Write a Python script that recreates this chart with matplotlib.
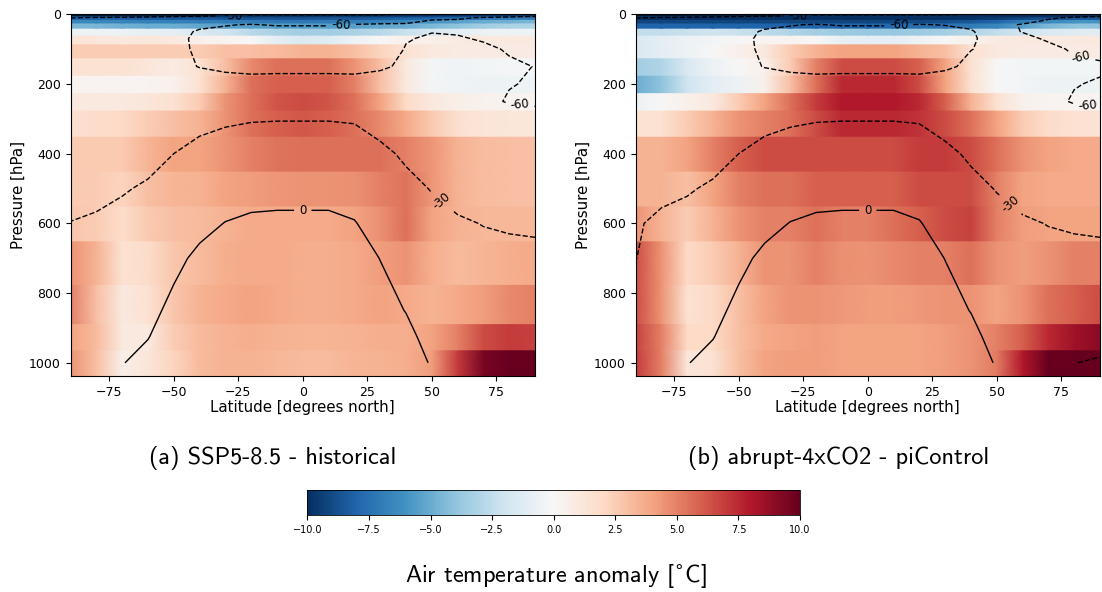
import numpy as np
import matplotlib
matplotlib.use("Agg")
import matplotlib.pyplot as plt
from matplotlib.cm import ScalarMappable
from matplotlib.colors import Normalize

# -- data --
lats = [-90, -80, -70, -60, -50, -40, -30, -20, -10, 0, 10, 20, 30, 40, 50, 60, 70, 80, 90]
plevs = [1000, 925, 850, 700, 600, 500, 400, 300, 250, 200, 150, 100, 70, 50, 30, 20, 10, 5, 1]
contour_levels = [-60, -30, 0]

# temperature anomaly [degC], one row per pressure level (1000 hPa first), one column per latitude
anom_ssp585 = [
    [4.5, 3.0, 0.6, 1.2, 2.2, 3.2, 3.5, 3.5, 3.3, 3.2, 3.2, 3.4, 3.5, 3.6, 4.2, 7.0, 9.5, 10.0, 10.0],
    [4.0, 3.2, 1.0, 1.0, 2.5, 3.2, 3.5, 3.6, 3.5, 3.4, 3.4, 3.5, 3.6, 3.6, 4.0, 5.0, 6.5, 7.0, 6.8],
    [5.0, 3.0, 1.0, 1.5, 2.8, 3.5, 3.8, 4.0, 3.8, 3.6, 3.6, 3.8, 4.0, 3.8, 3.5, 3.8, 4.2, 4.8, 5.0],
    [4.5, 3.5, 1.5, 1.8, 2.8, 3.2, 3.6, 3.8, 3.8, 3.6, 3.6, 3.8, 4.2, 4.5, 3.6, 3.2, 3.4, 3.6, 3.8],
    [2.8, 2.5, 1.8, 2.6, 3.0, 3.2, 3.5, 3.8, 3.8, 3.8, 3.8, 4.0, 4.6, 5.5, 4.0, 3.5, 3.3, 3.3, 3.3],
    [2.6, 2.5, 2.2, 3.0, 3.4, 3.5, 4.0, 4.2, 4.4, 4.5, 4.5, 4.6, 5.0, 5.4, 4.4, 3.5, 3.1, 3.0, 3.0],
    [2.6, 2.6, 2.6, 3.4, 4.0, 4.0, 4.5, 5.0, 5.4, 5.5, 5.5, 5.5, 5.5, 5.0, 4.4, 3.5, 3.1, 3.0, 3.0],
    [1.6, 1.8, 2.0, 2.5, 3.0, 3.5, 4.5, 5.5, 6.0, 6.2, 6.0, 5.5, 4.8, 3.8, 2.6, 1.6, 1.3, 1.2, 1.2],
    [1.0, 1.0, 1.0, 1.2, 1.5, 2.5, 4.5, 5.5, 6.3, 6.5, 6.3, 5.5, 4.0, 2.0, 1.0, 0.6, 0.4, 0.3, 0.3],
    [0.3, 0.3, 0.3, 0.3, 0.5, 1.5, 3.5, 5.5, 6.0, 6.0, 6.0, 5.0, 3.0, 1.0, -0.2, -0.4, -0.5, -0.5, -0.5],
    [1.5, 1.5, 1.5, 1.2, 0.8, 1.5, 3.0, 4.8, 5.5, 5.5, 5.5, 4.5, 3.0, 1.0, -0.2, -0.4, -0.3, -0.2, -0.2],
    [2.5, 2.5, 2.5, 2.5, 2.5, 2.5, 3.0, 3.0, 3.2, 3.5, 3.5, 3.0, 2.2, 1.5, 1.0, 0.8, 0.8, 0.8, 0.8],
    [1.3, 1.2, 1.0, 1.2, 1.0, 0.5, 0.3, 0.0, -1.0, -1.5, -1.2, -0.5, 0.0, 0.5, 0.5, 0.8, 1.0, 1.0, 1.0],
    [-0.5, -0.5, -0.6, -0.8, -1.0, -1.5, -2.0, -2.8, -3.2, -3.5, -3.5, -3.2, -2.8, -2.2, -1.6, -1.0, -0.6, -0.5, -0.5],
    [-4.5, -4.6, -4.8, -5.0, -5.0, -5.2, -5.5, -5.5, -5.6, -5.6, -5.5, -5.4, -5.2, -5.0, -4.5, -4.0, -3.5, -3.2, -3.0],
    [-6.5, -6.5, -6.6, -6.8, -6.8, -7.0, -7.0, -7.0, -7.2, -7.2, -7.0, -7.0, -6.8, -6.5, -6.0, -5.5, -5.0, -4.8, -4.5],
    [-8.0, -8.0, -8.2, -8.3, -8.4, -8.5, -8.5, -8.6, -8.6, -8.6, -8.5, -8.5, -8.3, -8.0, -7.8, -7.5, -7.2, -7.0, -7.0],
    [-9.2, -9.3, -9.4, -9.5, -9.5, -9.6, -9.6, -9.7, -9.7, -9.7, -9.6, -9.6, -9.5, -9.4, -9.2, -9.0, -8.8, -8.6, -8.5],
    [-10.0, -10.0, -10.0, -10.0, -10.0, -10.0, -10.0, -10.0, -10.0, -10.0, -10.0, -10.0, -10.0, -10.0, -10.0, -10.0, -10.0, -10.0, -10.0],
]

anom_4xco2 = [
    [7.0, 5.0, 1.2, 1.5, 3.0, 4.0, 4.2, 4.2, 4.0, 4.0, 4.0, 4.0, 4.2, 4.5, 5.2, 8.0, 10.0, 10.0, 10.0],
    [6.8, 5.0, 2.0, 2.0, 3.0, 3.8, 4.0, 4.2, 4.0, 4.0, 4.0, 4.0, 4.2, 4.5, 5.0, 6.0, 7.5, 8.5, 9.0],
    [6.5, 4.5, 1.5, 2.0, 3.0, 4.0, 4.5, 4.5, 4.3, 4.2, 4.2, 4.3, 4.5, 4.5, 4.0, 4.5, 5.5, 6.0, 6.5],
    [6.5, 4.5, 2.0, 2.5, 3.5, 4.5, 4.5, 5.0, 4.6, 4.5, 4.8, 5.0, 5.0, 5.5, 4.5, 4.2, 4.5, 5.0, 5.0],
    [4.5, 3.5, 2.5, 3.5, 4.5, 5.0, 5.0, 5.5, 5.0, 5.0, 5.5, 6.0, 6.5, 6.8, 5.0, 4.2, 4.0, 4.0, 4.0],
    [3.5, 3.5, 3.0, 4.0, 5.0, 5.5, 5.5, 6.0, 6.0, 6.0, 6.0, 6.5, 6.5, 6.5, 5.0, 4.0, 3.8, 3.8, 3.8],
    [3.5, 3.5, 4.0, 5.0, 6.0, 6.5, 6.5, 6.5, 6.5, 6.5, 6.5, 7.0, 7.0, 6.5, 5.5, 4.5, 4.0, 3.8, 3.8],
    [1.5, 1.5, 2.5, 3.5, 4.5, 5.0, 5.5, 6.5, 7.5, 7.5, 7.5, 7.2, 6.5, 5.5, 4.0, 2.5, 1.8, 1.5, 1.5],
    [-0.5, 0.0, 0.5, 1.0, 2.5, 4.0, 5.5, 7.0, 8.0, 8.0, 8.0, 7.5, 6.0, 3.5, 1.5, 0.5, 0.3, 0.3, 0.3],
    [-5.0, -4.0, -2.0, -1.0, -0.5, 0.5, 3.0, 5.5, 7.5, 7.5, 7.5, 6.5, 4.0, 1.5, 0.0, -0.3, -0.5, -0.5, -0.5],
    [-3.5, -3.0, -1.5, -0.5, 0.0, 0.5, 2.5, 5.0, 6.5, 6.5, 6.5, 6.0, 4.0, 1.5, 0.0, -0.3, -0.3, -0.3, -0.3],
    [-1.5, -1.0, -0.5, 0.0, 0.5, 1.0, 2.5, 3.5, 4.0, 4.0, 4.0, 3.5, 3.0, 1.5, 1.0, 0.8, 0.8, 0.8, 0.8],
    [-1.5, -1.0, -0.5, -0.3, 0.0, 0.3, 0.3, 0.0, -0.8, -1.0, -1.0, -0.5, 0.0, 0.5, 0.8, 1.0, 1.0, 1.0, 1.0],
    [-2.5, -2.5, -2.2, -2.0, -2.2, -2.6, -3.0, -3.4, -3.6, -3.8, -3.8, -3.6, -3.4, -3.0, -2.5, -2.0, -1.5, -1.2, -1.0],
    [-8.0, -8.0, -8.0, -8.0, -8.0, -8.0, -8.0, -8.0, -8.0, -8.0, -7.8, -7.5, -7.5, -7.0, -6.5, -5.5, -4.5, -4.0, -4.0],
    [-9.2, -9.2, -9.2, -9.2, -9.2, -9.2, -9.2, -9.2, -9.2, -9.2, -9.0, -9.0, -8.8, -8.5, -8.0, -7.0, -6.5, -6.0, -6.0],
    [-10.0, -10.0, -10.0, -10.0, -10.0, -10.0, -10.0, -10.0, -10.0, -10.0, -10.0, -10.0, -10.0, -9.8, -9.5, -9.0, -8.8, -8.5, -8.5],
    [-10.0, -10.0, -10.0, -10.0, -10.0, -10.0, -10.0, -10.0, -10.0, -10.0, -10.0, -10.0, -10.0, -10.0, -10.0, -10.0, -10.0, -10.0, -10.0],
    [-10.0, -10.0, -10.0, -10.0, -10.0, -10.0, -10.0, -10.0, -10.0, -10.0, -10.0, -10.0, -10.0, -10.0, -10.0, -10.0, -10.0, -10.0, -10.0],
]

# baseline air temperature [degC] used for the contours, same layout
clim_hist = [
    [-8, -5, -0.5, 4, 10, 16, 21, 24, 25, 25, 25, 24, 16, 9, -1.5, -6, -10, -14, -16],
    [-12, -9, -4, -0.5, 7, 12.5, 17, 20, 21, 21, 21, 20, 11, 4.5, -6, -10, -14, -17, -19],
    [-16, -13, -8, -4, 3.5, 9, 13, 15, 16, 16, 16, 15, 6, -0.5, -10, -14, -18, -20, -22],
    [-24, -21, -16, -12, -3.5, 3, 6, 7.5, 8, 8, 8, 7, -0.3, -8, -17, -21, -25, -26.5, -27],
    [-29.5, -27.5, -23, -19, -10, -4, 0.4, 2.5, 3, 3, 3, 0.8, -6.5, -15, -23, -28, -30.5, -31.5, -32],
    [-38, -35, -32, -27, -19, -12, -7.5, -5.5, -5, -5, -5, -7, -14, -24, -31, -36, -38, -40, -41],
    [-47, -44, -42, -38, -30, -23, -19, -17, -16, -16, -16, -18, -25, -33.5, -41, -45, -47, -48, -49],
    [-52, -52, -51, -50, -45, -37, -33.5, -31.5, -31, -31, -31, -32, -39, -46, -52, -53, -52, -54, -55],
    [-50, -51, -51, -52, -51, -46, -44, -42, -41, -41, -41, -42, -48, -51, -55, -52, -57, -61, -62],
    [-48, -50, -50, -51, -53, -53, -53, -53, -52, -52, -52, -53, -52, -54, -56, -54, -57, -59.5, -61],
    [-47, -50, -51, -52, -56, -60.5, -63.5, -65.5, -65.5, -65.5, -65.5, -65.5, -62.5, -57, -57, -55, -57, -58.5, -60.2],
    [-48, -51, -52, -53, -55, -63, -72, -75, -78, -78, -78, -76, -70, -59, -58, -57, -58, -61, -63],
    [-49, -52, -53, -54, -56, -63, -67, -70, -72, -72, -72, -71, -67, -61, -58, -59, -61, -63, -64],
    [-48, -51, -52, -53, -57, -61, -62, -65, -65, -65, -65, -65, -64, -62, -60.5, -61, -62, -64, -65],
    [-46, -48, -50, -51, -55, -58, -59.5, -60.5, -59, -59, -59, -60.5, -61, -61, -62, -62, -63, -64, -65],
    [-42, -44, -46, -48, -51, -54, -55, -55, -54, -54, -54, -55, -57, -58, -61, -62, -63, -64, -65],
    [-29, -32, -33, -36, -39, -42, -44, -45, -45, -45, -45, -45, -46, -48, -58, -58, -61, -62, -63],
    [-15, -18, -20, -22, -25, -28, -30.5, -33, -33, -33, -33, -33, -33, -36, -40, -45, -55, -57, -59],
    [3, 3, 3, 3, 3, 3, -2, -29, -29, -29, -29, -29, -29, -31, -33, -35, -40, -45, -48],
]

clim_pictrl = [
    [-8, -5, -0.5, 4, 10, 16, 21, 24, 25, 25, 25, 24, 16, 9, -1.5, -6, -14, -29.5, -33],
    [-12, -9, -4, -0.5, 7, 12.5, 17, 20, 21, 21, 21, 20, 11, 4.5, -6, -10, -18, -22, -20],
    [-25, -13, -8, -4, 3.5, 9, 13, 15, 16, 16, 16, 15, 6, -0.5, -10, -14, -20, -24, -24],
    [-30.5, -20, -16, -12, -3.5, 3, 6, 7.5, 8, 8, 8, 7, -0.3, -8, -17, -21, -25, -26.5, -27],
    [-32, -26, -23, -19, -10, -4, 0.4, 2.5, 3, 3, 3, 0.8, -6.5, -15, -23, -28, -30.5, -31.5, -32],
    [-38, -35, -32, -27, -19, -12, -7.5, -5.5, -5, -5, -5, -7, -14, -24, -31, -36, -38, -40, -41],
    [-47, -44, -42, -38, -30, -23, -19, -17, -16, -16, -16, -18, -25, -33.5, -41, -45, -47, -48, -49],
    [-52, -52, -51, -50, -45, -37, -33.5, -31.5, -31, -31, -31, -32, -39, -46, -52, -53, -52, -54, -55],
    [-50, -51, -51, -52, -51, -46, -44, -42, -41, -41, -41, -42, -48, -51, -55, -52, -57, -61, -62],
    [-48, -50, -50, -51, -53, -53, -53, -53, -52, -52, -52, -53, -52, -54, -56, -54, -57, -59.5, -61],
    [-47, -50, -51, -52, -56, -60.5, -63.5, -65.5, -65.5, -65.5, -65.5, -65.5, -62.5, -57, -57, -55, -57, -58.5, -58.5],
    [-48, -51, -52, -53, -55, -63, -72, -75, -78, -78, -78, -76, -70, -60.3, -57, -57, -58, -61, -63],
    [-49, -52, -53, -54, -56, -63, -67, -70, -72, -72, -72, -71, -67, -61, -57, -58, -61, -63, -64],
    [-48, -51, -52, -53, -57, -61, -62, -65, -65, -65, -65, -65, -64, -60.5, -57, -60.3, -62, -64, -65],
    [-46, -48, -50, -51, -55, -58, -59.5, -60.5, -59, -59, -59, -60.5, -59.5, -59, -58, -60.5, -62, -63, -65],
    [-42, -44, -46, -48, -51, -54, -55, -55, -54, -54, -54, -55, -57, -57, -59, -58, -61, -63, -64],
    [-29, -32, -33, -36, -39, -42, -44, -45, -45, -45, -45, -45, -46, -48, -57, -56, -59, -61, -63],
    [-15, -18, -20, -22, -25, -28, -30.5, -33, -33, -33, -33, -33, -33, -36, -40, -45, -55, -57, -59],
    [3, 3, 3, 3, 3, 3, -2, -29, -29, -29, -29, -29, -29, -31, -33, -35, -40, -45, -48],
]

label_pos_a = [(0, 560), (55, 525), (15, 30), (84, 272), (-27, 7)]
label_pos_b = [(0, 560), (57, 530), (12, 35), (85, 270), (82, 150), (-27, 7)]

caption_font = ['cmss10', 'DejaVu Sans']


def draw_panel(ax, anom, clim, label_pos):
    lat = np.array(lats, dtype=float)
    p = np.array(plevs, dtype=float)
    # band edges half way between pressure levels
    edges = np.concatenate([[p[0] + (p[0] - p[1]) / 2], (p[:-1] + p[1:]) / 2,
                            [p[-1] - (p[-2] - p[-1]) / 2]])
    for i in range(len(p)):
        row = np.array(anom[i], dtype=float)
        ax.pcolormesh(lat, [edges[i], edges[i + 1]], np.vstack([row, row]),
                      shading='gouraud', cmap='RdBu_r', vmin=-10, vmax=10)

    cs = ax.contour(lat, p, np.array(clim, dtype=float), levels=contour_levels,
                    colors='k', linewidths=1.0)
    ax.clabel(cs, fmt='%d', fontsize=8.5, inline=True, manual=label_pos)

    ax.set_xlim(-90, 90)
    ax.set_ylim(edges[0], 0)
    ax.set_xticks([-75, -50, -25, 0, 25, 50, 75])
    ax.set_yticks([0, 200, 400, 600, 800, 1000])
    ax.tick_params(labelsize=9)
    ax.set_xlabel('Latitude [degrees north]', fontsize=10.8, labelpad=1)
    ax.set_ylabel('Pressure [hPa]', fontsize=10.8, labelpad=2)


fig = plt.figure(figsize=(11.02, 5.92), dpi=100)
ax1 = fig.add_axes([0.064, 0.365, 0.4215, 0.611])
ax2 = fig.add_axes([0.5767, 0.365, 0.4215, 0.611])

draw_panel(ax1, anom_ssp585, clim_hist, label_pos_a)
draw_panel(ax2, anom_4xco2, clim_pictrl, label_pos_b)

fig.text(0.247, 0.226, '(a) SSP5-8.5 - historical', ha='center', va='center',
         fontsize=17.5, family=caption_font)
fig.text(0.761, 0.226, '(b) abrupt-4xCO2 - piControl', ha='center', va='center',
         fontsize=17.5, family=caption_font)

cax = fig.add_axes([0.279, 0.130, 0.447, 0.042])
sm = ScalarMappable(norm=Normalize(-10, 10), cmap='RdBu_r')
cb = fig.colorbar(sm, cax=cax, orientation='horizontal')
cb.set_ticks([-10, -7.5, -5, -2.5, 0, 2.5, 5, 7.5, 10])
cb.ax.tick_params(labelsize=7)
cb.outline.set_linewidth(0.6)

fig.text(0.505, 0.025, r'Air temperature anomaly [$^{\circ}$C]', ha='center', va='center',
         fontsize=17.5, family=caption_font)

fig.savefig('out.png', dpi=100)
